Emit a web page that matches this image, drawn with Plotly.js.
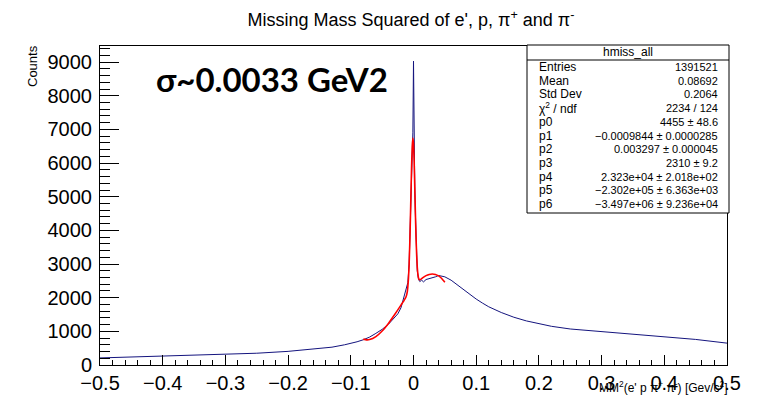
<!DOCTYPE html>
<html><head><meta charset="utf-8">
<script src="https://cdn.plot.ly/plotly-3.0.1.min.js"></script>
<style>html,body{margin:0;padding:0;background:#fff}#chart{width:758px;height:395px}</style>
</head><body><div id="chart"></div>
<script>
// Histogram (hmiss_all)
const histX = [-0.5,-0.45,-0.4,-0.35,-0.3,-0.25,-0.2,-0.17,-0.15,-0.13,-0.11,-0.1,-0.09,-0.08,-0.07,-0.06,-0.05,-0.04,-0.03,-0.025,-0.02,-0.016,-0.013,-0.011,-0.009,-0.007,-0.005,-0.003,-0.002,-0.001,0,0.001,0.002,0.003,0.004,0.005,0.006,0.008,0.01,0.013,0.016,0.02,0.025,0.03,0.035,0.04,0.045,0.05,0.06,0.07,0.08,0.09,0.1,0.11,0.12,0.14,0.16,0.18,0.2,0.22,0.25,0.3,0.35,0.4,0.45,0.5];
const histY = [210,235,255,280,312,350,405,450,485,530,600,640,690,750,830,940,1060,1210,1400,1520,1700,1950,2150,2280,2450,3000,4200,5800,6500,6900,9030,6500,5300,4500,3700,3100,2800,2550,2480,2520,2470,2540,2560,2600,2620,2660,2650,2620,2520,2380,2220,2080,1960,1840,1730,1560,1420,1310,1220,1150,1070,990,920,850,760,650];
// Fit curve (red)
const fitX = [-0.08,-0.075,-0.07,-0.06,-0.05,-0.04,-0.03,-0.02,-0.015,-0.012,-0.01,-0.008,-0.007,-0.006,-0.005,-0.004,-0.003,-0.002,-0.001,0,0.001,0.002,0.003,0.004,0.005,0.006,0.007,0.008,0.009,0.01,0.012,0.015,0.02,0.025,0.03,0.035,0.04,0.045,0.05];
const fitY = [769,748,755,843,1010,1236,1500,1781,1922,2021,2164,2574,2981,3564,4310,5146,5934,6511,6742,6571,6050,5313,4524,3820,3278,2913,2698,2588,2544,2533,2552,2595,2655,2692,2705,2691,2647,2571,2459];
// Axis ticks
const xTicks = [-0.5,-0.4,-0.3,-0.2,-0.1,0,0.1,0.2,0.3,0.4,0.5];
const xTickText = ['\u22120.5','\u22120.4','\u22120.3','\u22120.2','\u22120.1','0','0.1','0.2','0.3','0.4','0.5'];
const yTicks = [0,1000,2000,3000,4000,5000,6000,7000,8000,9000];
const yTickText = ['0','1000','2000','3000','4000','5000','6000','7000','8000','9000'];
// Stats box
const statName = 'hmiss_all';
const statLabels = ['Entries','Mean','Std Dev','\u03c7<sup>2</sup> / ndf','p0','p1','p2','p3','p4','p5','p6'];
const statValues = ['1391521','0.08692','0.2064','2234 / 124','4455 \u00b1 48.6','\u22120.0009844 \u00b1 0.0000285','0.003297 \u00b1 0.000045','2310 \u00b1 9.2','2.323e+04 \u00b1 2.018e+02','\u22122.302e+05 \u00b1 6.363e+03','\u22123.497e+06 \u00b1 9.236e+04'];

const L = 100, R = 727, T = 46, B = 365;
const W = 758, H = 395;
const px = v => (v - L) / (R - L);
const py = v => (B - v) / (B - T);
const FONT = 'Liberation Sans, Arial, Helvetica, sans-serif';

const traces = [
  {x: histX, y: histY, type: 'scatter', mode: 'lines', line: {color: '#14147e', width: 1}, hoverinfo: 'skip'},
  {x: fitX, y: fitY, type: 'scatter', mode: 'lines', line: {color: '#ff0000', width: 1.6, shape: 'spline', smoothing: 0.4}, hoverinfo: 'skip'}
];

const annotations = [];
annotations.push({xref: 'paper', yref: 'paper', x: px(154), y: py(79), xanchor: 'left', yanchor: 'middle', showarrow: false,
  text: '<b>\u03c3~0.0033 GeV2</b>', font: {family: 'Lato, Open Sans, sans-serif', size: 33, color: '#000'}});
annotations.push({xref: 'paper', yref: 'paper', x: px(32), y: py(66), xanchor: 'center', yanchor: 'middle', showarrow: false,
  textangle: -90, text: 'Counts', font: {family: FONT, size: 13, color: '#000'}});
annotations.push({xref: 'paper', yref: 'paper', x: px(730), y: py(387), xanchor: 'right', yanchor: 'middle', showarrow: false,
  text: "MM<sup>2</sup>(e' p \u03c0<sup>+</sup> \u03c0<sup>-</sup>) [Gev/c<sup>2</sup>]", font: {family: FONT, size: 12, color: '#000'}});
annotations.push({xref: 'paper', yref: 'paper', x: px(628), y: py(52), xanchor: 'center', yanchor: 'middle', showarrow: false,
  text: statName, font: {family: FONT, size: 12, color: '#000'}});
for (let i = 0; i < statLabels.length; i++) {
  const yy = 67 + i * 13.7;
  annotations.push({xref: 'paper', yref: 'paper', x: px(537), y: py(yy), xanchor: 'left', yanchor: 'middle', showarrow: false,
    text: statLabels[i], font: {family: FONT, size: 12, color: '#000'}});
  annotations.push({xref: 'paper', yref: 'paper', x: px(720), y: py(yy), xanchor: 'right', yanchor: 'middle', showarrow: false,
    text: statValues[i], font: {family: FONT, size: 11, color: '#000'}});
}

const shapes = [
  {type: 'rect', xref: 'paper', yref: 'paper', x0: px(527), x1: px(729), y0: py(213), y1: py(45), fillcolor: '#fff', line: {color: '#000', width: 1}, layer: 'above'},
  {type: 'line', xref: 'paper', yref: 'paper', x0: px(527), x1: px(729), y0: py(60), y1: py(60), line: {color: '#000', width: 1}, layer: 'above'}
];

const layout = {
  width: W, height: H,
  margin: {l: L, r: W - R, t: T, b: H - B, pad: 0},
  paper_bgcolor: '#fff', plot_bgcolor: '#fff',
  showlegend: false,
  font: {family: FONT, color: '#000'},
  title: {text: "Missing Mass Squared of e', p, \u03c0<sup>+</sup> and \u03c0<sup>-</sup>", font: {family: FONT, size: 18, color: '#000'},
    xref: 'container', yref: 'container', x: 411 / W, y: 1 - 20 / H, xanchor: 'center', yanchor: 'middle'},
  xaxis: {range: [-0.5, 0.5], tickmode: 'array', tickvals: xTicks, ticktext: xTickText,
    ticks: 'inside', ticklen: 9.6, tickwidth: 1, tickcolor: '#000',
    minor: {dtick: 0.02, tick0: -0.5, ticks: 'inside', ticklen: 4.8, tickcolor: '#000', showgrid: false},
    showline: true, linecolor: '#000', linewidth: 1, mirror: true, showgrid: false, zeroline: false,
    tickfont: {family: FONT, size: 20, color: '#000'}, fixedrange: true},
  yaxis: {range: [0, 9480], tickmode: 'array', tickvals: yTicks, ticktext: yTickText,
    ticks: 'inside', ticklen: 19, tickwidth: 1, tickcolor: '#000',
    minor: {dtick: 200, tick0: 0, ticks: 'inside', ticklen: 9.5, tickcolor: '#000', showgrid: false},
    showline: true, linecolor: '#000', linewidth: 1, mirror: true, showgrid: false, zeroline: false,
    tickfont: {family: FONT, size: 20, color: '#000'}, ticklabelstandoff: 3, fixedrange: true},
  annotations: annotations,
  shapes: shapes
};

Plotly.newPlot('chart', traces, layout, {staticPlot: true, displayModeBar: false});
</script>
</body></html>
